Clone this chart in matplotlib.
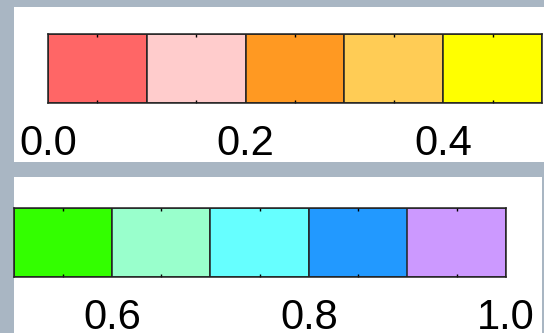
import matplotlib
matplotlib.use("Agg")
import matplotlib.pyplot as plt
from matplotlib.patches import Rectangle

# Discrete colour scale, one box per 0.1 step
bin_starts = [0.0, 0.1, 0.2, 0.3, 0.4, 0.5, 0.6, 0.7, 0.8, 0.9]
bin_colors = ["#ff6666", "#ffcccc", "#ff9922", "#ffcc55", "#ffff00",
              "#33ff00", "#99ffcc", "#66ffff", "#2299ff", "#cc99ff"]
bin_mids = [0.05, 0.15, 0.25, 0.35, 0.45, 0.55, 0.65, 0.75, 0.85, 0.95]
tick_values = [0.0, 0.2, 0.4, 0.6, 0.8, 1.0]
tick_labels = ["0.0", "0.2", "0.4", "0.6", "0.8", "1.0"]

W, H = 544, 333
BG = "#a9b6c3"
EDGE = "#222222"

plt.rcParams["font.family"] = ["Liberation Sans", "DejaVu Sans"]

fig = plt.figure(figsize=(W / 100, H / 100), dpi=100, facecolor=BG)

def px_rect(x0, y0, x1, y1):
    # pixel box (top-left origin) -> figure fraction
    return [x0 / W, 1 - y1 / H, (x1 - x0) / W, (y1 - y0) / H]

# white panels
for x0, y0, x1, y1 in [(14, 7, 544, 162), (14, 177, 542, 333)]:
    l, b, w, h = px_rect(x0, y0, x1, y1)
    fig.add_artist(Rectangle((l, b), w, h, transform=fig.transFigure,
                             facecolor="white", edgecolor="none", zorder=0))

panels = [
    (px_rect(48, 34, 542, 103), 0.0, 0.5),
    (px_rect(13.5, 208, 506, 277), 0.5, 1.0),
]

for rect, lo, hi in panels:
    ax = fig.add_axes(rect)
    xs = [b for b in bin_starts if lo - 1e-9 <= b < hi - 1e-9]
    cs = [c for b, c in zip(bin_starts, bin_colors) if lo - 1e-9 <= b < hi - 1e-9]
    ax.bar(xs, [1] * len(xs), width=0.1, align="edge", color=cs,
           edgecolor=EDGE, linewidth=1.1)
    ax.set_xlim(lo, hi)
    ax.set_ylim(0, 1)
    ax.set_yticks([])
    tv = [t for t in tick_values if lo - 1e-9 <= t <= hi + 1e-9]
    tl = [l for t, l in zip(tick_values, tick_labels) if lo - 1e-9 <= t <= hi + 1e-9]
    ax.set_xticks(tv, tl)
    ax.set_xticks([m for m in bin_mids if lo < m < hi], minor=True)
    ax.tick_params(axis="x", which="major", length=0, pad=15, labelsize=30)
    ax.tick_params(axis="x", which="minor", direction="in", length=2,
                   width=1, top=True, bottom=True, color="black")
    for s in ax.spines.values():
        s.set_linewidth(1.1)
        s.set_color(EDGE)
    for lab in ax.get_xticklabels():
        lab.set_clip_on(False)

fig.savefig("out.png", dpi=100, facecolor=BG)
